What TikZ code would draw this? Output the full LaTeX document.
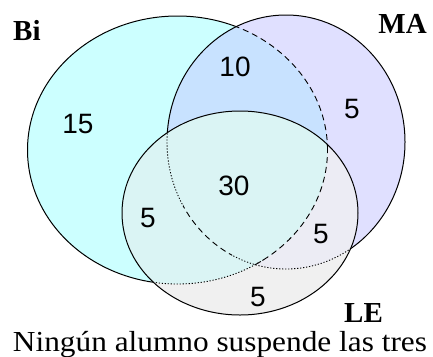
\documentclass[tikz,border=0pt]{standalone}
\usepackage{fontspec}
\setmainfont{Liberation Serif}
\newfontfamily\numfont{Liberation Sans}
\definecolor{biC}{HTML}{CCFFFF}
\definecolor{maC}{HTML}{E0E0FF}
\definecolor{bimaC}{HTML}{C8E2FF}
\definecolor{leC}{HTML}{F0F0F0}
\definecolor{bileC}{HTML}{DAF4F4}
\definecolor{maleC}{HTML}{ECECF4}
\begin{document}
\begin{tikzpicture}[x=1pt,y=-1pt,
  biP/.style={insert path={(177.5,150) ellipse [x radius=150pt,y radius=134pt]}},
  maP/.style={insert path={(286,142) ellipse [x radius=119pt,y radius=127pt]}},
  leP/.style={insert path={(240,213) ellipse [x radius=118pt,y radius=102pt]}},
  edgeline/.style={line width=1pt,black},
  hiddash/.style={line width=0.9pt,black,dash pattern=on 6pt off 4pt},
  hiddot/.style={line width=0.9pt,black,dash pattern=on 1.2pt off 1.8pt},
  num/.style={font=\numfont\fontsize{28}{28}\selectfont,inner sep=0pt},
  setlabel/.style={font=\bfseries\fontsize{29}{29}\selectfont,inner sep=0pt}]
\useasboundingbox (0,0) rectangle (433,356);
\fill[white] (0,0) rectangle (433,356);
% fills and visible outlines (painter's order)
\fill[biC, biP];
\draw[edgeline, biP];
\fill[maC, maP];
\begin{scope}
  \clip[maP];
  \fill[bimaC, biP];
\end{scope}
\draw[edgeline, maP];
\fill[leC, leP];
\begin{scope}
  \clip[leP];
  \fill[maleC, maP];
  \fill[bileC, biP];
\end{scope}
\draw[edgeline, leP];
% hidden outlines
\begin{scope}
  \clip[maP];
  \draw[hiddash, biP];
\end{scope}
\begin{scope}
  \clip[leP];
  \clip (0,250) rectangle (264,356);
  \draw[hiddot, biP];
\end{scope}
\begin{scope}
  \clip[leP];
  \clip (0,0) rectangle (183,356) (232,0) rectangle (433,356);
  \draw[hiddot, maP];
\end{scope}
\begin{scope}
  \clip[leP];
  \clip (183,0) rectangle (232,356);
  \draw[hiddash, maP];
\end{scope}
% labels
\node[setlabel, anchor=base west] (biL) at (13,40) {Bi};
\node[setlabel, anchor=base east] (maL) at (427,33) {MA};
\node[setlabel, anchor=base west] (leL) at (344,322) {LE};
\node[anchor=base, inner sep=0pt, font=\fontsize{29}{29}\selectfont, xscale=1.08] (note) at (220,351) {Ningún alumno suspende las tres};
% numbers
\node[num] (n15) at (78,124) {15};
\node[num] (n10) at (235,67) {10};
\node[num] (n5ma) at (352,109) {5};
\node[num] (n30) at (234,186) {30};
\node[num] (n5bile) at (148,218) {5};
\node[num] (n5male) at (321,234) {5};
\node[num] (n5le) at (258,297) {5};
\end{tikzpicture}
\end{document}
